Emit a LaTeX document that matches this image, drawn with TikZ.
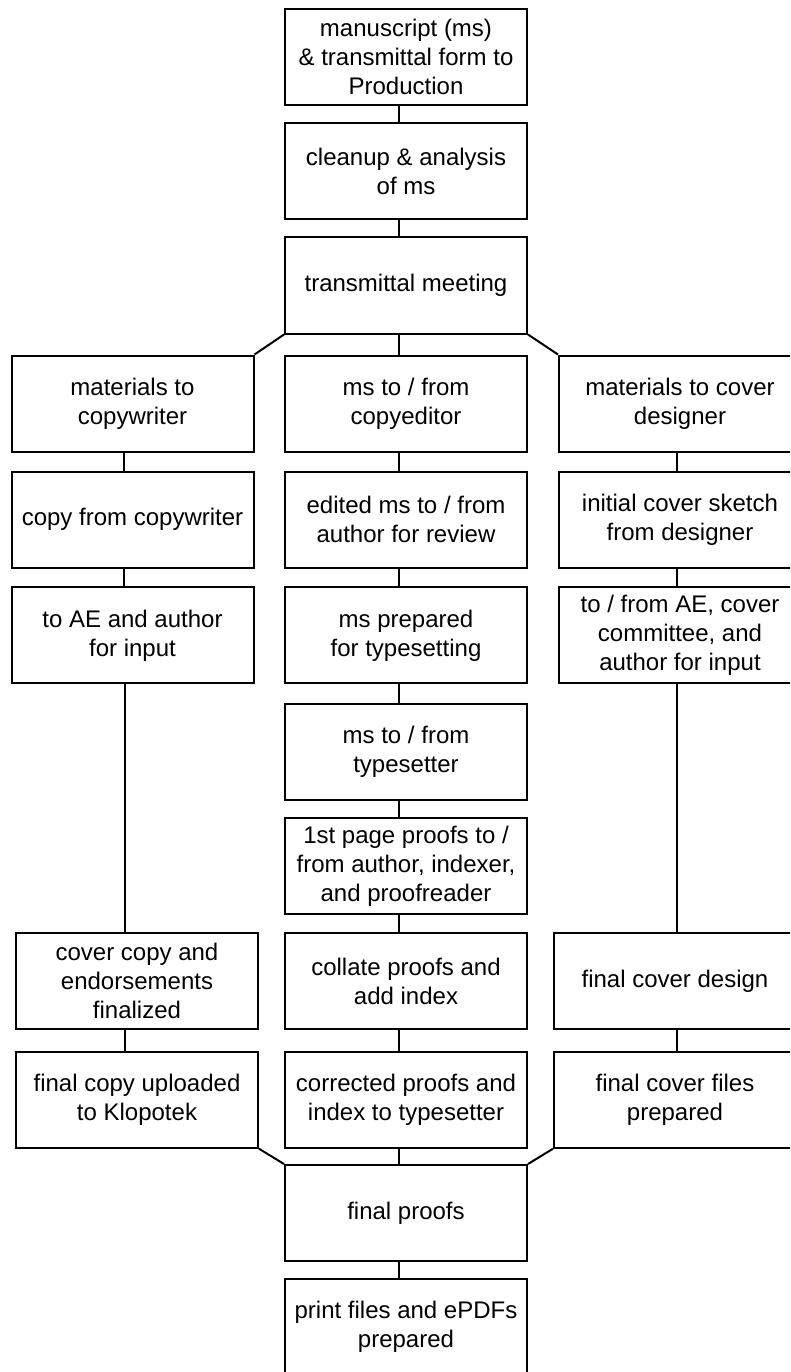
\documentclass[tikz,border=0pt]{standalone}
\usepackage{fontspec}
\setmainfont{Liberation Sans}
\begin{document}
\begin{tikzpicture}[x=1pt,y=-1pt,
  box/.style={draw=black, line width=2pt, minimum width=242pt, minimum height=96pt,
    align=center, inner sep=0pt, font=\fontsize{24}{29}\selectfont},
  conn/.style={draw=black, line width=2pt}]
\clip (0,0) rectangle (790,1372);
\fill[white] (0,0) rectangle (790,1372);
% column x positions for connectors
\coordinate (xl) at (124,0);
\coordinate (xlb) at (125,0);
\coordinate (xm) at (399,0);
\coordinate (xr) at (677,0);
% middle column
\node[box] (m1) at (406,57) {manuscript (ms)\\\& transmittal form to\\Production};
\node[box] (m2) at (406,171.5) {cleanup \& analysis\\of ms};
\node[box] (m3) at (406,285.5) {transmittal meeting};
\node[box] (m4) at (406,403.5) {ms to / from\\copyeditor};
\node[box] (m5) at (406,519.7) {edited ms to / from\\author for review};
\node[box] (m6) at (406,635.3) {ms prepared\\for typesetting};
\node[box] (m7) at (406,752) {ms to / from\\typesetter};
\node[box] (m8) at (406,866) {1st page proofs to /\\from author, indexer,\\and proofreader};
\node[box] (m9) at (406,981) {collate proofs and\\add index};
\node[box] (m10) at (406,1099.7) {corrected proofs and\\index to typesetter};
\node[box] (fp) at (406,1213) {final proofs};
\node[box] (pf) at (406,1327) {print files and ePDFs\\prepared};
% left column
\node[box] (l4) at (132.5,403.5) {materials to\\copywriter};
\node[box] (l5) at (132.5,519.7) {copy from copywriter};
\node[box] (l6) at (132.5,635.3) {to AE and author\\for input};
\node[box] (l9) at (137,981) {cover copy and\\endorsements\\finalized};
\node[box] (l10) at (137,1099.7) {final copy uploaded\\to Klopotek};
% right column
\node[box] (r4) at (680,403.5) {materials to cover\\designer};
\node[box] (r5) at (680,519.7) {initial cover sketch\\from designer};
\node[box] (r6) at (680,635.3) {to / from AE, cover\\committee, and\\author for input};
\node[box] (r9) at (675,981) {final cover design};
\node[box] (r10) at (675,1099.7) {final cover files\\prepared};
% middle connectors
\foreach \a/\b in {m1/m2,m2/m3,m3/m4,m4/m5,m5/m6,m6/m7,m7/m8,m8/m9,m9/m10,m10/fp,fp/pf}
  \draw[conn] (\a.south -| xm) -- (\b.north -| xm);
% left connectors
\draw[conn] (l4.south -| xl) -- (l5.north -| xl);
\draw[conn] (l5.south -| xl) -- (l6.north -| xl);
\draw[conn] (l6.south -| xlb) -- (l9.north -| xlb);
\draw[conn] (l9.south -| xlb) -- (l10.north -| xlb);
% right connectors
\draw[conn] (r4.south -| xr) -- (r5.north -| xr);
\draw[conn] (r5.south -| xr) -- (r6.north -| xr);
\draw[conn] (r6.south -| xr) -- (r9.north -| xr);
\draw[conn] (r9.south -| xr) -- (r10.north -| xr);
% diagonals
\draw[conn] (m3.south west) -- (l4.north east);
\draw[conn] (m3.south east) -- (r4.north west);
\draw[conn] (l10.south east) -- (fp.north west);
\draw[conn] (r10.south west) -- (fp.north east);
\end{tikzpicture}
\end{document}
